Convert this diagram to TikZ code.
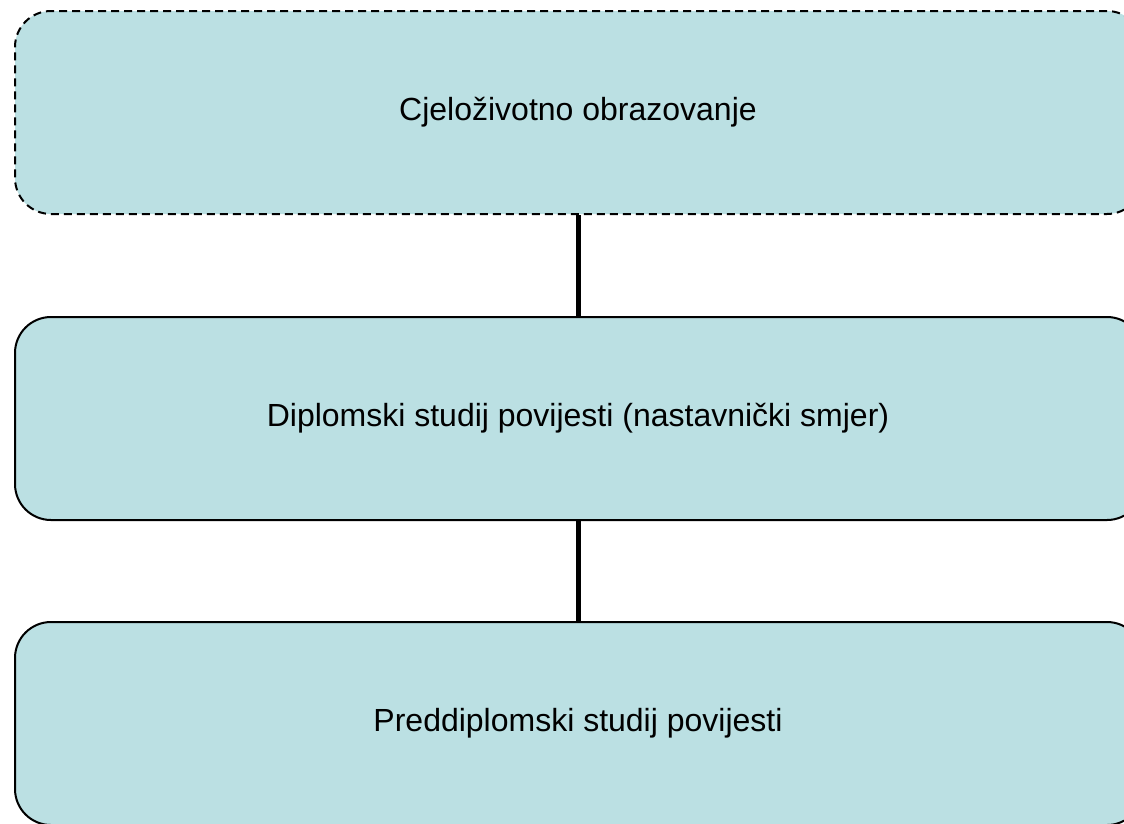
\documentclass[tikz,border=0pt]{standalone}
\usepackage{fontspec}
\setmainfont{Liberation Sans}
\definecolor{boxfill}{HTML}{BBE0E3}
\begin{document}
\begin{tikzpicture}[x=1pt,y=-1pt,
  level/.style={draw=black, fill=boxfill, line width=2pt, rounded corners=36pt,
    minimum width=1128pt, minimum height=203pt, inner sep=0pt, anchor=north west},
  caption/.style={font=\fontsize{32}{38}\selectfont},
  link/.style={line width=5pt}]
  \useasboundingbox (0,0) rectangle (1124,823);
  \node[level, dashed, dash pattern=on 8pt off 5pt] (top) at (14,10) {};
  \node[level] (mid) at (14,316) {};
  \node[level] (bot) at (14,621) {};
  \node[caption] (ttop) at (578,112) {Cjeloživotno obrazovanje};
  \node[caption] (tmid) at (578,418) {Diplomski studij povijesti (nastavnički smjer)};
  \node[caption] (tbot) at (578,723) {Preddiplomski studij povijesti};
  \draw[link] (top.south -| ttop) -- (mid.north -| ttop);
  \draw[link] (mid.south -| ttop) -- (bot.north -| ttop);
\end{tikzpicture}
\end{document}
